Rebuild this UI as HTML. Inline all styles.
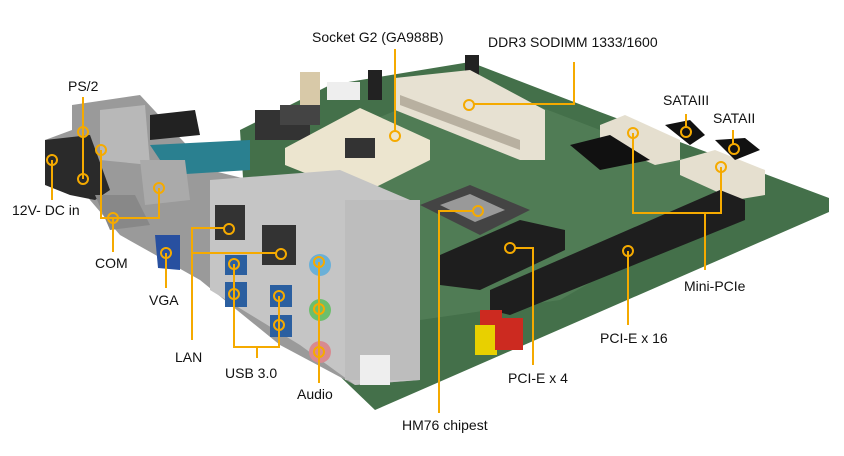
<!DOCTYPE html>
<html><head><meta charset="utf-8"><style>
html,body{margin:0;padding:0;background:#fff;}
svg{display:block}
text{font-family:"Liberation Sans",sans-serif;font-size:14px;fill:#111;}
</style></head><body>
<svg width="844" height="456" viewBox="0 0 844 456" xmlns="http://www.w3.org/2000/svg">
<rect width="844" height="456" fill="#fff"/>
<!-- PCB -->
<polygon points="240,130 330,85 470,62 600,112 829,198 829,212 375,410 250,290" fill="#44704a"/>
<polygon points="300,150 470,80 600,130 760,185 560,300 420,320" fill="#55825a" opacity="0.7"/>
<!-- back headers -->
<rect x="300" y="72" width="20" height="35" fill="#d8c9a8"/>
<rect x="327" y="82" width="33" height="18" fill="#eee"/>
<rect x="368" y="70" width="14" height="30" fill="#222"/>
<rect x="465" y="55" width="14" height="25" fill="#222"/>
<rect x="255" y="110" width="55" height="30" fill="#333"/>
<rect x="280" y="105" width="40" height="20" fill="#444"/>
<!-- DDR SODIMM -->
<polygon points="395,78 470,70 545,110 545,160 520,160 395,110" fill="#e7e1d2"/>
<polygon points="400,95 520,140 520,150 400,105" fill="#b8b0a0"/>
<!-- CPU socket -->
<polygon points="285,148 360,108 430,140 430,160 360,195 285,165" fill="#ece5cf"/>
<rect x="345" y="138" width="30" height="20" fill="#333"/>
<!-- chipset -->
<polygon points="420,205 470,185 530,210 480,235" fill="#444"/>
<polygon points="440,205 470,194 505,210 475,222" fill="#999"/>
<!-- Mini-PCIe + SATA -->
<polygon points="600,125 625,115 680,140 680,160 655,165 600,140" fill="#e5dfcf"/>
<polygon points="680,160 715,150 765,170 765,195 735,200 680,175" fill="#e5dfcf"/>
<polygon points="665,125 690,120 705,135 690,145" fill="#111"/>
<polygon points="715,140 745,138 760,150 735,160" fill="#111"/>
<polygon points="570,145 610,135 650,160 600,170" fill="#111"/>
<!-- PCIe x16 -->
<polygon points="490,290 720,190 745,200 745,220 510,315 490,310" fill="#1e1e1e"/>
<!-- PCIe x4 -->
<polygon points="440,255 520,220 565,230 565,250 480,290 440,285" fill="#1e1e1e"/>
<!-- yellow/red connectors -->
<rect x="475" y="325" width="22" height="30" fill="#e8d000"/>
<rect x="495" y="318" width="28" height="32" fill="#cc2a20"/>
<rect x="480" y="310" width="22" height="15" fill="#cc2a20"/>
<!-- I/O panel -->
<polygon points="45,140 72,130 72,105 140,95 210,170 350,205 420,200 420,380 355,385 280,345 200,280 120,235 90,200" fill="#9a9a9a"/>
<polygon points="45,140 90,135 110,190 95,200 70,195 45,185" fill="#2a2a2a"/>
<polygon points="100,110 145,105 150,165 100,160" fill="#b8b8b8"/>
<polygon points="150,115 195,110 200,135 150,140" fill="#222"/>
<polygon points="150,145 250,140 250,170 170,175" fill="#2a8090"/>
<polygon points="95,195 135,195 150,225 110,230" fill="#888"/>
<polygon points="140,160 185,160 190,200 145,205" fill="#aaa"/>
<polygon points="155,235 180,235 180,270 158,268" fill="#2850a0"/>
<polygon points="210,180 340,170 410,200 420,380 355,385 300,345 210,290" fill="#c5c5c5"/>
<rect x="215" y="205" width="30" height="35" fill="#333"/>
<rect x="262" y="225" width="34" height="40" fill="#333"/>
<rect x="225" y="255" width="22" height="20" fill="#2b5fa0"/>
<rect x="225" y="282" width="22" height="25" fill="#2b5fa0"/>
<rect x="270" y="285" width="22" height="22" fill="#2b5fa0"/>
<rect x="270" y="315" width="22" height="22" fill="#2b5fa0"/>
<rect x="345" y="200" width="75" height="180" fill="#bdbdbd"/>
<circle cx="320" cy="265" r="11" fill="#6ab0d8"/>
<circle cx="320" cy="310" r="11" fill="#6cbf6c"/>
<circle cx="320" cy="352" r="11" fill="#d88a90"/>
<rect x="360" y="355" width="30" height="30" fill="#eee"/>
<!-- connectors orange -->
<g stroke="#f5aa00" stroke-width="2" fill="none">
<path d="M83,97 V179"/><circle cx="83" cy="132" r="5"/><circle cx="83" cy="179" r="5"/>
<path d="M52,160 V200"/><circle cx="52" cy="160" r="5"/>
<path d="M101,150 V218 H159 V188"/><path d="M113,218 V252"/>
<circle cx="101" cy="150" r="5"/><circle cx="159" cy="188" r="5"/><circle cx="113" cy="218" r="5"/>
<path d="M166,253 V288"/><circle cx="166" cy="253" r="5"/>
<path d="M192,340 V228 H224"/><path d="M192,253 H276"/>
<circle cx="229" cy="229" r="5"/><circle cx="281" cy="254" r="5"/>
<path d="M234,264 V347 H279 V296"/><path d="M257,347 V358"/>
<circle cx="234" cy="264" r="5"/><circle cx="234" cy="294" r="5"/><circle cx="279" cy="296" r="5"/><circle cx="279" cy="325" r="5"/>
<path d="M319,262 V383"/><circle cx="319" cy="262" r="5"/><circle cx="319" cy="309" r="5"/><circle cx="319" cy="352" r="5"/>
<path d="M395,49 V131"/><circle cx="395" cy="136" r="5"/>
<path d="M574,62 V104 H474"/><circle cx="469" cy="105" r="5"/>
<path d="M686,114 V127"/><circle cx="686" cy="132" r="5"/>
<path d="M733,130 V144"/><circle cx="734" cy="149" r="5"/>
<path d="M633,133 V213 H721 V167"/><path d="M705,213 V270"/>
<circle cx="633" cy="133" r="5"/><circle cx="721" cy="167" r="5"/>
<path d="M628,251 V325"/><circle cx="628" cy="251" r="5"/>
<path d="M515,248 H533 V365"/><circle cx="510" cy="248" r="5"/>
<path d="M473,211 H439 V413"/><circle cx="478" cy="211" r="5"/>
</g>
<text x="68" y="91">PS/2</text>
<text x="12" y="215">12V- DC in</text>
<text x="95" y="268">COM</text>
<text x="149" y="305">VGA</text>
<text x="175" y="362">LAN</text>
<text x="225" y="378">USB 3.0</text>
<text x="297" y="399">Audio</text>
<text x="312" y="42">Socket G2 (GA988B)</text>
<text x="488" y="47">DDR3 SODIMM 1333/1600</text>
<text x="663" y="105">SATAIII</text>
<text x="713" y="123">SATAII</text>
<text x="684" y="291">Mini-PCIe</text>
<text x="600" y="343">PCI-E x 16</text>
<text x="508" y="383">PCI-E x 4</text>
<text x="402" y="430">HM76 chipest</text>
</svg>
</body></html>
